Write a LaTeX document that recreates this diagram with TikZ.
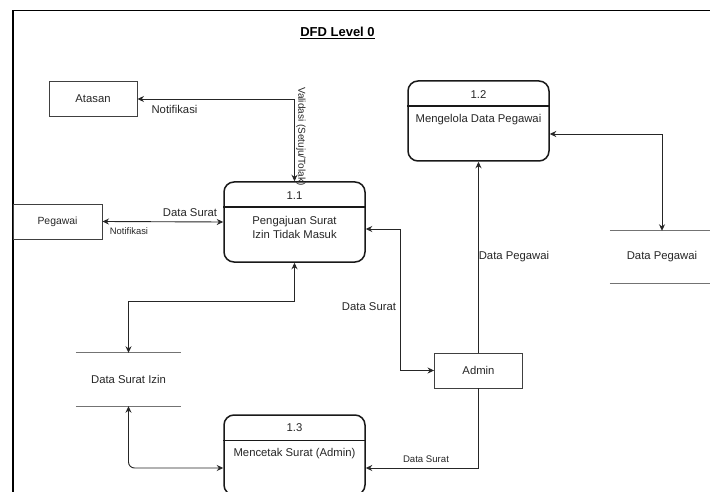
\documentclass[tikz,border=0pt]{standalone}
\usepackage{fontspec}
\setmainfont{Liberation Sans}
\usetikzlibrary{arrows.meta}

\begin{document}
\begin{tikzpicture}[x=1pt,y=-1pt,>={Stealth[length=6.5pt,width=6pt]},
	txt/.style={text=black!85,font=\fontsize{11.3}{14}\selectfont,inner sep=0pt},
	small/.style={text=black!85,font=\fontsize{9.6}{12}\selectfont,inner sep=0pt},
	proc/.style={draw=black!90,line width=1.5pt,rounded corners=10pt,minimum width=141pt,minimum height=80pt},
	ent/.style={draw=black!75,line width=0.9pt,minimum width=88pt,minimum height=35pt,txt},
	store/.style={minimum width=105pt,minimum height=53pt,txt},
	storeline/.style={draw=black!55,line width=1pt},
	flow/.style={draw=black!85,line width=0.9pt}]
\useasboundingbox (0,0) rectangle (710,492);
\clip (0,0) rectangle (710,492);
\fill[white] (0,0) rectangle (710,492);
\draw[line width=1.8pt] (13,520) -- (13,10.5) -- (730,10.5);

\node[font=\fontsize{13}{15}\selectfont\bfseries,inner sep=0pt] (title) at (337.5,33) {\underline{DFD Level 0}};

\node[proc] (p11) at (294.5,222) {};
\node[proc] (p12) at (478.5,121) {};
\node[proc] (p13) at (294.5,455) {};
\foreach \p in {p11,p12,p13}
	\draw[line width=1.5pt,black!90] ([yshift=-26pt]\p.north west) -- ([yshift=-26pt]\p.north east);
\node[txt] (n11) at ([yshift=-14pt]p11.north) {1.1};
\node[txt,align=center] (t11) at ([yshift=-46pt]p11.north) {Pengajuan Surat\\Izin Tidak Masuk};
\node[txt] (n12) at ([yshift=-14pt]p12.north) {1.2};
\node[txt] (t12) at ([yshift=-39pt]p12.north) {Mengelola Data Pegawai};
\node[txt] (n13) at ([yshift=-13pt]p13.north) {1.3};
\node[txt] (t13) at ([yshift=-39pt]p13.north) {Mencetak Surat (Admin)};

\node[ent] (atasan) at (93,99) {Atasan};
\node[ent,minimum width=89pt,font=\fontsize{10.4}{12}\selectfont] (pegawai) at (57.5,221.5) {Pegawai};
\node[ent] (admin) at (478.5,370.5) {Admin};

\node[store] (izin) at (128.5,379.5) {Data Surat Izin};
\node[store,minimum width=104pt,minimum height=52pt] (dpeg) at (662,257) {Data Pegawai};
\draw[storeline] (izin.north west) -- (izin.north east) (izin.south west) -- (izin.south east);
\draw[storeline] (dpeg.north west) -- (dpeg.north east) (dpeg.south west) -- (dpeg.south east);

\draw[flow,<->] (atasan.east) -| (p11.north);
\draw[flow,<->] (pegawai.east) -- (p11.west);
\draw[flow,<->] (p11.south) -- ++(0,39) -| (izin.north);
\draw[flow,<->,rounded corners=6pt] (izin.south) |- ([yshift=-13pt]p13.west);
\draw[flow,->] (admin.south) |- ([yshift=-13pt]p13.east);
\draw[flow,->] (admin.north) -- (p12.south);
\draw[flow,<->] ([yshift=-7pt]p11.east) -- ++(35,0) |- (admin.west);
\draw[flow,<->] ([yshift=-13pt]p12.east) -| (dpeg.north);

\node[txt] (lnotif1) at (174.5,109) {Notifikasi};
\node[small,font=\fontsize{10}{12}\selectfont,rotate=-90,anchor=west] (lvalid) at (301,87) {Validasi (Setuju/Tolak)};
\node[txt] (lsurat1) at (190,213) {Data Surat};
\node[small,font=\fontsize{9.4}{12}\selectfont] (lnotif2) at (129,231) {Notifikasi};
\node[txt] (lsurat2) at (369,307) {Data Surat};
\node[txt] (lpeg) at (514,257) {Data Pegawai};
\node[small] (lsurat3) at (426,459) {Data Surat};
\end{tikzpicture}
\end{document}
